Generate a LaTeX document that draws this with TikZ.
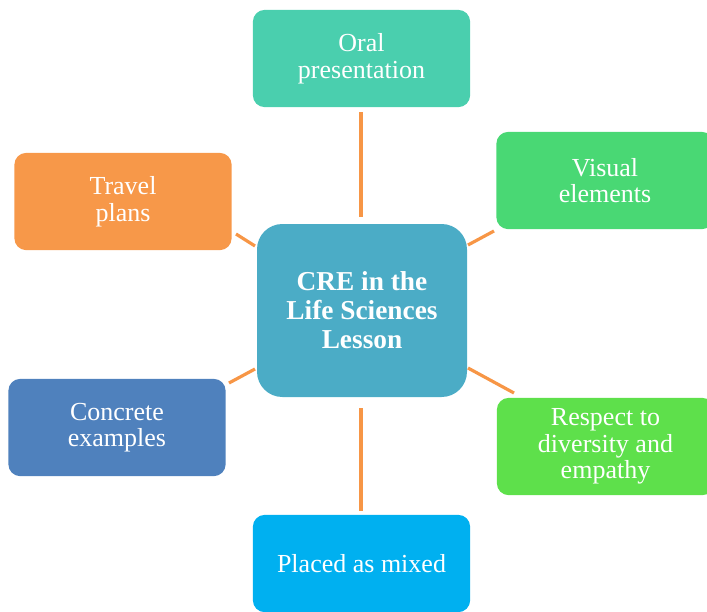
\documentclass[tikz,border=0pt]{standalone}
\usepackage{fontspec}
\setmainfont{Liberation Serif}
\definecolor{cOral}{HTML}{4ACFAE}
\definecolor{cVisual}{HTML}{49D874}
\definecolor{cTravel}{HTML}{F79849}
\definecolor{cConcrete}{HTML}{4F81BD}
\definecolor{cRespect}{HTML}{5EE04B}
\definecolor{cPlaced}{HTML}{00B0F0}
\definecolor{cCenter}{HTML}{4BACC6}
\definecolor{cLink}{HTML}{F79646}
\tikzset{
  leaf/.style={rounded corners=9pt, minimum width=163pt, minimum height=73pt,
    text=white, align=center, inner sep=0pt,
    font=\fontsize{19.5}{20}\selectfont},
  hub/.style={rounded corners=19pt, minimum width=157.5pt, minimum height=129.75pt,
    fill=cCenter, text=white, align=center, inner sep=0pt,
    font=\fontsize{20.5}{21.75}\selectfont\bfseries},
  link/.style={draw=cLink, line width=2.4pt}
}
\begin{document}
\begin{tikzpicture}[x=0.75pt,y=-0.75pt]
\useasboundingbox (0,0) rectangle (707,611);
\clip (0,0) rectangle (707,611);
\node[hub] (c) at (362,310.5) {CRE in the\\Life Sciences\\Lesson};
\node[leaf, fill=cOral] (oral) at (361.5,58.5) {Oral\\presentation};
\node[leaf, fill=cVisual] (vis) at (605,180.5) {Visual\\elements};
\node[leaf, fill=cTravel] (trav) at (123,201.5) {Travel\\plans};
\node[leaf, fill=cConcrete] (conc) at (117,427.5) {Concrete\\examples};
\node[leaf, fill=cRespect] (resp) at (605.5,446.5) {Respect to\\diversity and\\empathy};
\node[leaf, fill=cPlaced] (plac) at (361.5,563.5) {Placed as mixed};
% connector end points
\coordinate (t1) at (361,112); \coordinate (t2) at (361,217);
\coordinate (b1) at (361,408); \coordinate (b2) at (361,511);
\coordinate (ul1) at (236,234); \coordinate (ul2) at (255,246);
\coordinate (ur1) at (468,245); \coordinate (ur2) at (494,231);
\coordinate (ll1) at (229,383); \coordinate (ll2) at (255,369);
\coordinate (lr1) at (468,368); \coordinate (lr2) at (514,393);
\draw[link] (t1) -- (t2);
\draw[link] (b1) -- (b2);
\draw[link] (ul1) -- (ul2);
\draw[link] (ur1) -- (ur2);
\draw[link] (ll1) -- (ll2);
\draw[link] (lr1) -- (lr2);
\end{tikzpicture}
\end{document}
